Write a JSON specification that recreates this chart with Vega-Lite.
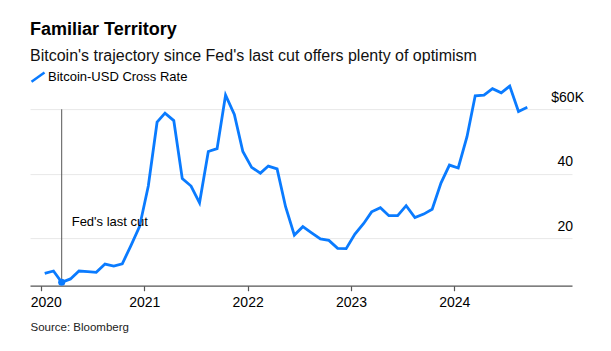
{
  "$schema": "https://vega.github.io/schema/vega-lite/v6.json",
  "width": 542,
  "height": 200.6,
  "autosize": {"type": "none"},
  "padding": {"left": 30, "top": 85.1, "right": 39, "bottom": 65.3},
  "background": "white",
  "config": {"font": "Liberation Sans", "view": {"stroke": null}},
  "title": {
    "text": "Familiar Territory",
    "subtitle": "Bitcoin's trajectory since Fed's last cut offers plenty of optimism",
    "anchor": "start",
    "frame": "group",
    "fontSize": 18,
    "fontWeight": "bold",
    "color": "#000000",
    "subtitleFontSize": 16,
    "subtitleColor": "#111111",
    "subtitlePadding": 9,
    "offset": 5
  },
  "datasets": {
    "btc": [
      {"date": "2020-01-15", "value": 9.15, "series": "Bitcoin-USD Cross Rate"},
      {"date": "2020-02-15", "value": 9.86, "series": "Bitcoin-USD Cross Rate"},
      {"date": "2020-03-15", "value": 6.36, "series": "Bitcoin-USD Cross Rate"},
      {"date": "2020-04-15", "value": 7.4, "series": "Bitcoin-USD Cross Rate"},
      {"date": "2020-05-15", "value": 9.86, "series": "Bitcoin-USD Cross Rate"},
      {"date": "2020-06-15", "value": 9.65, "series": "Bitcoin-USD Cross Rate"},
      {"date": "2020-07-15", "value": 9.46, "series": "Bitcoin-USD Cross Rate"},
      {"date": "2020-08-15", "value": 12.0, "series": "Bitcoin-USD Cross Rate"},
      {"date": "2020-09-15", "value": 11.4, "series": "Bitcoin-USD Cross Rate"},
      {"date": "2020-10-15", "value": 12.1, "series": "Bitcoin-USD Cross Rate"},
      {"date": "2020-11-15", "value": 17.8, "series": "Bitcoin-USD Cross Rate"},
      {"date": "2020-12-15", "value": 23.6, "series": "Bitcoin-USD Cross Rate"},
      {"date": "2021-01-15", "value": 36.2, "series": "Bitcoin-USD Cross Rate"},
      {"date": "2021-02-15", "value": 56.0, "series": "Bitcoin-USD Cross Rate"},
      {"date": "2021-03-15", "value": 58.8, "series": "Bitcoin-USD Cross Rate"},
      {"date": "2021-04-15", "value": 56.5, "series": "Bitcoin-USD Cross Rate"},
      {"date": "2021-05-15", "value": 38.5, "series": "Bitcoin-USD Cross Rate"},
      {"date": "2021-06-15", "value": 36.2, "series": "Bitcoin-USD Cross Rate"},
      {"date": "2021-07-15", "value": 31.0, "series": "Bitcoin-USD Cross Rate"},
      {"date": "2021-08-15", "value": 46.9, "series": "Bitcoin-USD Cross Rate"},
      {"date": "2021-09-15", "value": 47.8, "series": "Bitcoin-USD Cross Rate"},
      {"date": "2021-10-15", "value": 64.4, "series": "Bitcoin-USD Cross Rate"},
      {"date": "2021-11-15", "value": 58.4, "series": "Bitcoin-USD Cross Rate"},
      {"date": "2021-12-15", "value": 46.9, "series": "Bitcoin-USD Cross Rate"},
      {"date": "2022-01-15", "value": 42.0, "series": "Bitcoin-USD Cross Rate"},
      {"date": "2022-02-15", "value": 40.2, "series": "Bitcoin-USD Cross Rate"},
      {"date": "2022-03-15", "value": 42.4, "series": "Bitcoin-USD Cross Rate"},
      {"date": "2022-04-15", "value": 41.5, "series": "Bitcoin-USD Cross Rate"},
      {"date": "2022-05-15", "value": 29.8, "series": "Bitcoin-USD Cross Rate"},
      {"date": "2022-06-15", "value": 21.0, "series": "Bitcoin-USD Cross Rate"},
      {"date": "2022-07-15", "value": 23.6, "series": "Bitcoin-USD Cross Rate"},
      {"date": "2022-08-15", "value": 21.7, "series": "Bitcoin-USD Cross Rate"},
      {"date": "2022-09-15", "value": 19.8, "series": "Bitcoin-USD Cross Rate"},
      {"date": "2022-10-15", "value": 19.35, "series": "Bitcoin-USD Cross Rate"},
      {"date": "2022-11-15", "value": 16.9, "series": "Bitcoin-USD Cross Rate"},
      {"date": "2022-12-15", "value": 16.8, "series": "Bitcoin-USD Cross Rate"},
      {"date": "2023-01-15", "value": 21.3, "series": "Bitcoin-USD Cross Rate"},
      {"date": "2023-02-15", "value": 24.6, "series": "Bitcoin-USD Cross Rate"},
      {"date": "2023-03-15", "value": 28.2, "series": "Bitcoin-USD Cross Rate"},
      {"date": "2023-04-15", "value": 29.5, "series": "Bitcoin-USD Cross Rate"},
      {"date": "2023-05-15", "value": 27.0, "series": "Bitcoin-USD Cross Rate"},
      {"date": "2023-06-15", "value": 27.0, "series": "Bitcoin-USD Cross Rate"},
      {"date": "2023-07-15", "value": 30.1, "series": "Bitcoin-USD Cross Rate"},
      {"date": "2023-08-15", "value": 26.4, "series": "Bitcoin-USD Cross Rate"},
      {"date": "2023-09-15", "value": 27.5, "series": "Bitcoin-USD Cross Rate"},
      {"date": "2023-10-15", "value": 29.0, "series": "Bitcoin-USD Cross Rate"},
      {"date": "2023-11-15", "value": 37.1, "series": "Bitcoin-USD Cross Rate"},
      {"date": "2023-12-15", "value": 42.7, "series": "Bitcoin-USD Cross Rate"},
      {"date": "2024-01-15", "value": 41.8, "series": "Bitcoin-USD Cross Rate"},
      {"date": "2024-02-15", "value": 51.5, "series": "Bitcoin-USD Cross Rate"},
      {"date": "2024-03-15", "value": 64.2, "series": "Bitcoin-USD Cross Rate"},
      {"date": "2024-04-15", "value": 64.4, "series": "Bitcoin-USD Cross Rate"},
      {"date": "2024-05-15", "value": 66.4, "series": "Bitcoin-USD Cross Rate"},
      {"date": "2024-06-15", "value": 65.1, "series": "Bitcoin-USD Cross Rate"},
      {"date": "2024-07-15", "value": 67.2, "series": "Bitcoin-USD Cross Rate"},
      {"date": "2024-08-15", "value": 59.3, "series": "Bitcoin-USD Cross Rate"},
      {"date": "2024-09-15", "value": 60.6, "series": "Bitcoin-USD Cross Rate"}
    ],
    "note": [
      {"date": "2020-03-15", "top": 60, "bottom": 6.36, "labelY": 23.9, "label": "Fed's last cut"}
    ]
  },
  "layer": [
    {
      "data": {"name": "btc"},
      "mark": {"type": "line", "strokeWidth": 2.8, "interpolate": "linear"},
      "encoding": {
        "x": {
          "field": "date",
          "type": "temporal",
          "scale": {"domain": [{"year": 2019, "month": 11, "date": 24}, {"year": 2025, "month": 2, "date": 20}]},
          "axis": {
            "values": [
              {"year": 2020, "month": 1, "date": 1},
              {"year": 2021, "month": 1, "date": 1},
              {"year": 2022, "month": 1, "date": 1},
              {"year": 2023, "month": 1, "date": 1},
              {"year": 2024, "month": 1, "date": 1}
            ],
            "format": "%Y",
            "grid": false,
            "domainColor": "#555555",
            "domainWidth": 1.3,
            "tickColor": "#555555",
            "tickSize": 5,
            "tickWidth": 1.2,
            "labelFontSize": 14,
            "labelColor": "#000000",
            "labelPadding": 5,
            "labelOffset": {"condition": {"test": "year(datum.value) == 2020", "value": 5}, "value": 0},
            "title": "Source: Bloomberg",
            "titleAnchor": "start",
            "titleAlign": "left",
            "titleFontSize": 11.5,
            "titleFontWeight": "normal",
            "titleColor": "#222222",
            "titlePadding": 12
          }
        },
        "y": {
          "field": "value",
          "type": "quantitative",
          "scale": {"domain": [5.3, 67.5], "nice": false, "zero": false},
          "axis": {
            "orient": "right",
            "values": [20, 40, 60],
            "grid": true,
            "gridColor": "#e8e8e8",
            "gridWidth": 1,
            "domain": false,
            "ticks": false,
            "tickSize": 0,
            "labelAlign": "right",
            "labelBaseline": "alphabetic",
            "labelOffset": -8,
            "labelPadding": {"condition": {"test": "datum.value == 60", "value": 11.5}, "value": 0.6},
            "labelExpr": "datum.value == 60 ? '$60K' : datum.label",
            "labelFontSize": 14,
            "labelColor": "#000000",
            "title": null
          }
        },
        "color": {
          "field": "series",
          "type": "nominal",
          "scale": {"range": ["#0a7bff"]},
          "legend": {
            "orient": "none",
            "legendX": 0,
            "legendY": -16,
            "title": null,
            "padding": 0,
            "symbolType": "M-1,0.72L1,-0.72",
            "symbolSize": 169,
            "symbolStrokeWidth": 2.5,
            "symbolStrokeColor": "#0a7bff",
            "symbolFillColor": "transparent",
            "labelFontSize": 13,
            "labelColor": "#000000",
            "labelOffset": 2
          }
        }
      }
    },
    {
      "data": {"name": "note"},
      "mark": {"type": "rule", "color": "#555555", "strokeWidth": 1},
      "encoding": {
        "x": {"field": "date", "type": "temporal"},
        "y": {"field": "top", "type": "quantitative"},
        "y2": {"field": "bottom"}
      }
    },
    {
      "data": {"name": "note"},
      "mark": {"type": "circle", "size": 50, "color": "#0a7bff", "opacity": 1},
      "encoding": {
        "x": {"field": "date", "type": "temporal"},
        "y": {"field": "bottom", "type": "quantitative"}
      }
    },
    {
      "data": {"name": "note"},
      "mark": {"type": "text", "align": "left", "baseline": "alphabetic", "dx": 10, "fontSize": 13, "color": "#000000"},
      "encoding": {
        "x": {"field": "date", "type": "temporal"},
        "y": {"field": "labelY", "type": "quantitative"},
        "text": {"field": "label"}
      }
    }
  ]
}
